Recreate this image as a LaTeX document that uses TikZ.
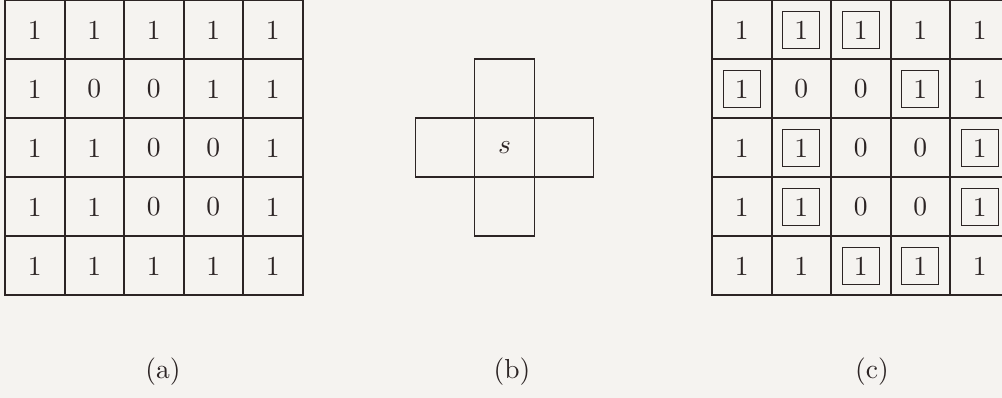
\documentclass[tikz,border=0pt]{standalone}
\usepackage{xcolor}
\usepackage{graphicx}
\usepackage{tikz}
\usetikzlibrary{positioning}
\definecolor{ink}{RGB}{44,36,36}
\definecolor{paper}{RGB}{245,243,240}
\newcommand{\cellnum}[1]{\scalebox{2.75}{#1}}

\begin{document}
\begin{tikzpicture}[x=1pt,y=-1pt,node distance=0pt,
  c/.style={draw=ink,line width=2pt,minimum width=59.5pt,minimum height=59pt,inner sep=0pt,outer sep=0pt,text=ink},
  nb/.style={c,line width=1.2pt},
  q/.style={draw=ink,line width=1.3pt,minimum width=37pt,minimum height=37pt,inner sep=0pt}]
  \fill[paper] (0,0) rectangle (1002,398);
  \useasboundingbox (0,0) rectangle (1002,398);
  % grids (a) and (c)
  \foreach \g/\gx in {a/5,c/712}
    \foreach \r/\row in {1/{1,1,1,1,1},2/{1,0,0,1,1},3/{1,1,0,0,1},4/{1,1,0,0,1},5/{1,1,1,1,1}}
      \foreach \v [count=\k] in \row
        \node[c] (\g-\r-\k) at ({\gx+59.5*(\k-.5)},{.5+59*(\r-.5)}) {\cellnum{\v}};
  % boundary cells of (c)
  \foreach \p in {1-2,1-3,2-1,2-4,3-2,3-5,4-2,4-5,5-3,5-4}
    \node[q] (q-\p) at (c-\p) {};
  % neighbourhood (b)
  \node[nb] (s) at (504.5,147.5) {\cellnum{$s$}};
  \node[nb,above=of s] (sn) {};
  \node[nb,below=of s] (ss) {};
  \node[nb,left=of s] (sw) {};
  \node[nb,right=of s] (se) {};
  % captions
  \node[text=ink] (la) at (163,372) {\cellnum{(a)}};
  \node[text=ink] (lb) at (512,372) {\cellnum{(b)}};
  \node[text=ink] (lc) at (872,372) {\cellnum{(c)}};
\end{tikzpicture}
\end{document}
